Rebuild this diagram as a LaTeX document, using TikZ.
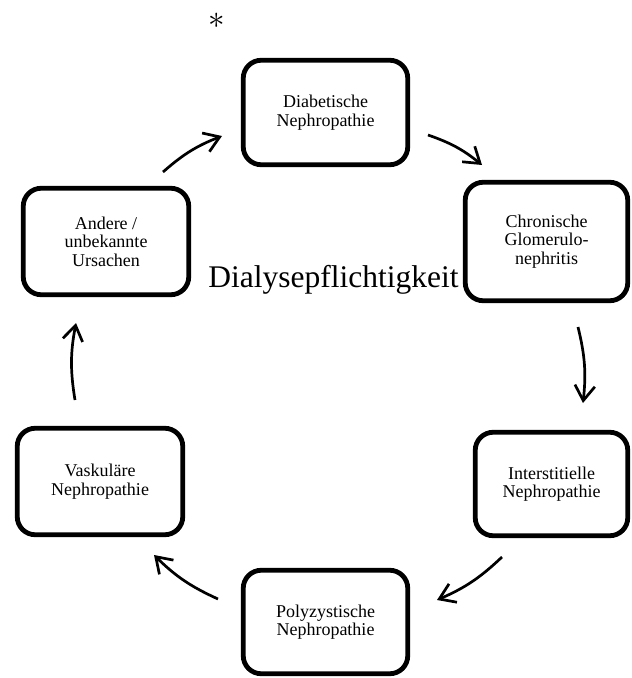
\documentclass[tikz,border=0pt]{standalone}
\usepackage{fontspec}
\setmainfont{Liberation Serif}
\usetikzlibrary{arrows.meta}
\begin{document}
\begin{tikzpicture}[x=1pt,y=-1pt,
  box/.style={draw, line width=4.8pt, rounded corners=18pt, align=center,
    font=\fontsize{18}{18.5}\selectfont, inner sep=0pt},
  conn/.style={line width=2.7pt, -{Straight Barb[length=15pt,width=20pt]}, bend left=10}]
\useasboundingbox (0,0) rectangle (632,678);
\node[box, minimum width=164.5pt, minimum height=104.5pt] (diab) at (325.5,112.5) {Diabetische\\Nephropathie};
\node[box, minimum width=162.5pt, minimum height=118.5pt] (chron) at (546.5,241.5) {Chronische\\Glomerulo-\\nephritis};
\node[box, minimum width=152.5pt, minimum height=103.5pt] (inter) at (551.5,484) {Interstitielle\\Nephropathie};
\node[box, minimum width=164.5pt, minimum height=103.5pt] (poly) at (325.5,622) {Polyzystische\\Nephropathie};
\node[box, minimum width=165.5pt, minimum height=106.5pt] (vask) at (100,481.5) {Vaskuläre\\Nephropathie};
\node[box, minimum width=165.5pt, minimum height=106.5pt] (andere) at (106,241.5) {Andere /\\unbekannte\\Ursachen};
\node[anchor=base, font=\fontsize{31.5}{31.5}\selectfont, inner sep=0pt] (center) at (333.5,287.5) {Dialysepflichtigkeit};
\node[font=\fontsize{10}{10}\selectfont, scale=3.3, inner sep=0pt] (star) at (217,21) {$\ast$};
\coordinate (a1s) at (163,172); \coordinate (a1e) at (222,136);
\coordinate (a2s) at (428,135); \coordinate (a2e) at (482,165);
\coordinate (a3s) at (578,327); \coordinate (a3e) at (583,403);
\coordinate (a4s) at (502,557); \coordinate (a4e) at (437,600);
\coordinate (a5s) at (218,599); \coordinate (a5e) at (154,555);
\coordinate (a6s) at (75,400);  \coordinate (a6e) at (76,323);
\draw[conn] (a1s) to (a1e);
\draw[conn] (a2s) to (a2e);
\draw[conn] (a3s) to (a3e);
\draw[conn] (a4s) to (a4e);
\draw[conn] (a5s) to (a5e);
\draw[conn] (a6s) to (a6e);
\end{tikzpicture}
\end{document}
